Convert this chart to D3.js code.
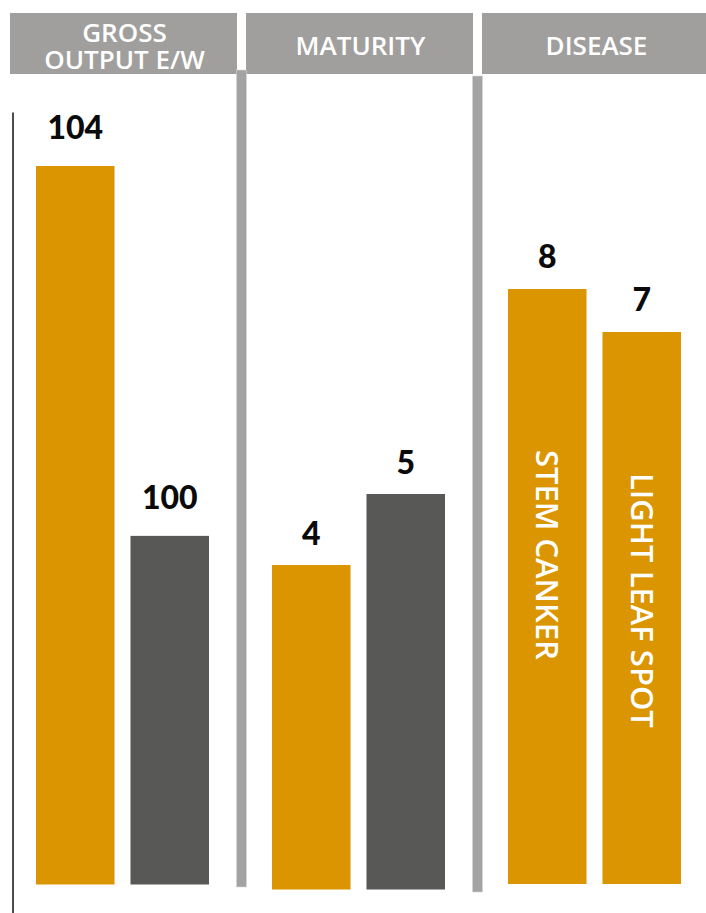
<!DOCTYPE html>
<html><head><meta charset="utf-8">
<script src="https://cdn.jsdelivr.net/npm/d3@7"></script>
<style>body{margin:0;background:#fff}svg{display:block}</style>
</head><body><svg id="chart" width="706" height="913"></svg>
<script>
// ---- data ----
const panels = ["gross", "maturity", "disease"];
const panelTitles = [["GROSS", "OUTPUT E/W"], ["MATURITY"], ["DISEASE"]];
const barKeys = ["a", "b"];
const grossValues = [104, 100];
const maturityValues = [4, 5];
const diseaseValues = [8, 7];
const inBarLabels = [[null, null], [null, null], ["STEM CANKER", "LIGHT LEAF SPOT"]];

// ---- style ----
const ORANGE = "#DB9500", DARK = "#585856", HEAD = "#A09F9D", DIV = "#A3A3A3";
const barColors = [[ORANGE, DARK], [ORANGE, DARK], [ORANGE, ORANGE]];
const panelValues = [grossValues, maturityValues, diseaseValues];
// per-panel value scales (the original infographic is not drawn to a common scale)
const yDomains = [[96.23, 104], [-0.57, 5], [-5.84, 8]];
const yRanges = [[884.5, 166], [889.5, 494], [884, 289]];
const labelGap = [27, 20, 21];
const dividerY = [[70, 887], [76, 892]];
const inLabelOffset = [[0, 0], [0, 0], [161, 141]];
const FONT = "'Open Sans', 'DejaVu Sans', sans-serif";

const svg = d3.select("#chart");

const xPanel = d3.scaleBand().domain(panels).range([10, 709]).paddingInner(0.0381).paddingOuter(0);
const xBar = d3.scaleBand().domain(barKeys).range([26, 199]).paddingInner(0.169).paddingOuter(0);

// left axis line
const axisScale = d3.scaleLinear().domain([0, 1]).range([913, 112]);
svg.append("g").attr("transform", "translate(12.5,0)")
  .call(d3.axisLeft(axisScale).tickValues([]).tickSizeOuter(0))
  .select(".domain").attr("stroke", "#111").attr("stroke-width", 1.5);

// headers
panels.forEach((p, i) => {
  const x0 = xPanel(p);
  const g = svg.append("g");
  g.append("rect").attr("x", x0).attr("y", 13).attr("width", xPanel.bandwidth()).attr("height", 61).attr("fill", HEAD);
  const lines = panelTitles[i];
  const cx = x0 + xPanel.bandwidth() / 2 + 1;
  const baselines = lines.length === 2 ? [42, 69] : [55];
  const t = g.append("text").attr("text-anchor", "middle").attr("fill", "#fff")
    .attr("font-family", FONT).attr("font-weight", 600).attr("font-size", 26);
  lines.forEach((s, j) => {
    t.append("tspan").attr("x", cx).attr("y", baselines[j]).text(s);
  });
});

// dividers
panels.slice(1).forEach((p, i) => {
  svg.append("rect").attr("x", xPanel(p) - 9.5).attr("y", dividerY[i][0])
    .attr("width", 10).attr("height", dividerY[i][1] - dividerY[i][0])
    .attr("fill", DIV).attr("stroke", "#d6d6d6").attr("stroke-width", 0.6);
});

// bars
panels.forEach((p, i) => {
  const y = d3.scaleLinear().domain(yDomains[i]).range(yRanges[i]);
  const x0 = xPanel(p);
  const data = barKeys.map((k, j) => ({ k, j, v: panelValues[i][j] }));
  const g = svg.append("g").attr("transform", `translate(${x0},0)`);
  g.selectAll("rect.bar").data(data).join("rect").attr("class", "bar")
    .attr("x", d => xBar(d.k)).attr("width", xBar.bandwidth())
    .attr("y", d => y(d.v)).attr("height", d => y(yDomains[i][0]) - y(d.v))
    .attr("fill", d => barColors[i][d.j]);
  g.selectAll("text.val").data(data).join("text").attr("class", "val")
    .attr("x", d => xBar(d.k) + xBar.bandwidth() / 2)
    .attr("y", d => y(d.v) - labelGap[i])
    .attr("text-anchor", "middle").attr("fill", "#0a0a0a")
    .attr("font-family", "Lato, sans-serif").attr("font-weight", 900).attr("font-size", 32)
    .text(d => d.v);
  const fs = 31;
  g.selectAll("text.inlab").data(data.filter(d => inBarLabels[i][d.j])).join("text").attr("class", "inlab")
    .attr("transform", d => `translate(${xBar(d.k) + xBar.bandwidth() / 2 - 0.357 * fs},${y(d.v) + inLabelOffset[i][d.j]}) rotate(90)`)
    .attr("fill", "#fff").attr("font-family", FONT).attr("font-weight", 600).attr("font-size", fs)
    .text(d => inBarLabels[i][d.j]);
});
</script>
</body></html>
